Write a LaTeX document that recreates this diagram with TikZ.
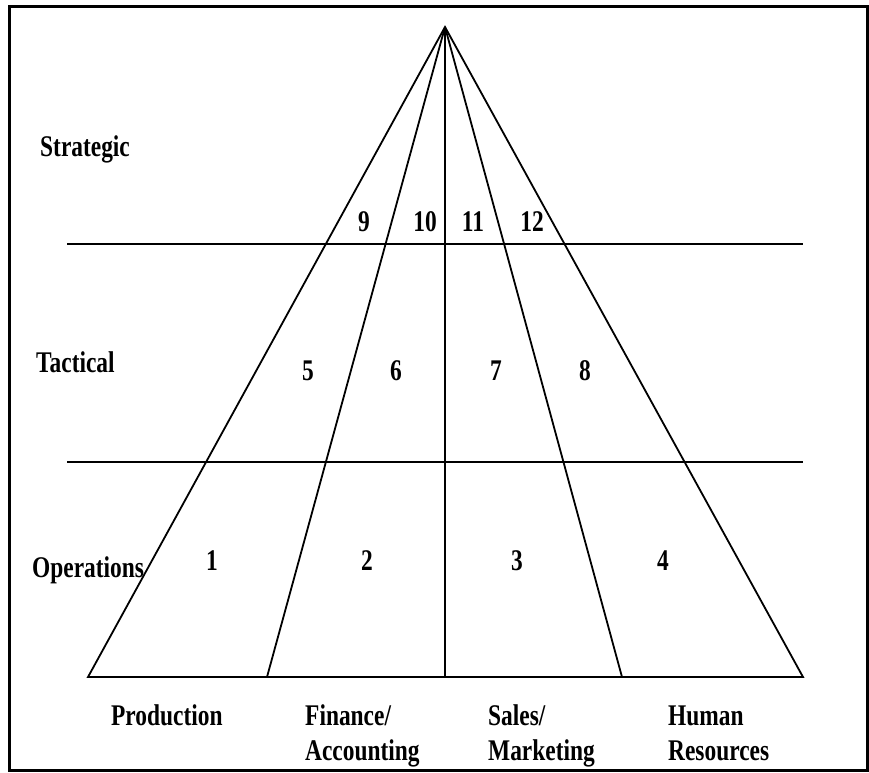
\documentclass[tikz,border=0pt]{standalone}
\usepackage{fontspec}
\setmainfont[FakeStretch=0.78]{Liberation Serif}
\begin{document}
\begin{tikzpicture}[x=1pt,y=-1pt,
  rule/.style={line width=1.8pt,line join=miter},
  frame/.style={line width=3pt},
  lbl/.style={inner sep=0pt,anchor=base west,font=\fontsize{30}{35}\selectfont\bfseries},
  num/.style={inner sep=0pt,anchor=base,font=\fontsize{30}{35}\selectfont\bfseries},
  dept/.style={lbl,align=left}]
\useasboundingbox (0,0) rectangle (869,772);
% outer frame
\draw[frame] (9,6) rectangle (867,770);

% pyramid corners and division points
\coordinate (apex) at (445,27);
\coordinate (b1) at (88,677);
\coordinate (b2) at (267,677);
\coordinate (b3) at (445,677);
\coordinate (b4) at (622,677);
\coordinate (b5) at (803,677);
\draw[rule] (apex) -- (b1) -- (b5) -- cycle;
\draw[rule] (apex) -- (b2);
\draw[rule] (apex) -- (b3);
\draw[rule] (apex) -- (b4);

% level dividers
\coordinate (s1) at (67,244);
\coordinate (s2) at (803,244);
\coordinate (t1) at (67,462);
\coordinate (t2) at (803,462);
\draw[rule] (s1) -- (s2);
\draw[rule] (t1) -- (t2);

% level names
\node[lbl] (strategic) at (40,156) {Strategic};
\node[lbl] (tactical) at (36,372) {Tactical};
\node[lbl] (operations) at (32,577) {Operations};

% cell numbers
\node[num] (n1) at (212,570) {1};
\node[num] (n2) at (367,570) {2};
\node[num] (n3) at (517,570) {3};
\node[num] (n4) at (663,570) {4};
\node[num] (n5) at (308,380) {5};
\node[num] (n6) at (396,380) {6};
\node[num] (n7) at (496,380) {7};
\node[num] (n8) at (585,380) {8};
\node[num] (n9) at (364,231) {9};
\node[num] (n10) at (425,231) {10};
\node[num] (n11) at (473,231) {11};
\node[num] (n12) at (532,231) {12};

% functional areas (two-line labels sit on the baseline of their last line)
\node[dept] (prod) at (111,725) {Production};
\node[dept] (fin) at (305,760) {Finance/\\Accounting};
\node[dept] (sales) at (488,760) {Sales/\\Marketing};
\node[dept] (hr) at (668,760) {Human\\Resources};
\end{tikzpicture}
\end{document}
